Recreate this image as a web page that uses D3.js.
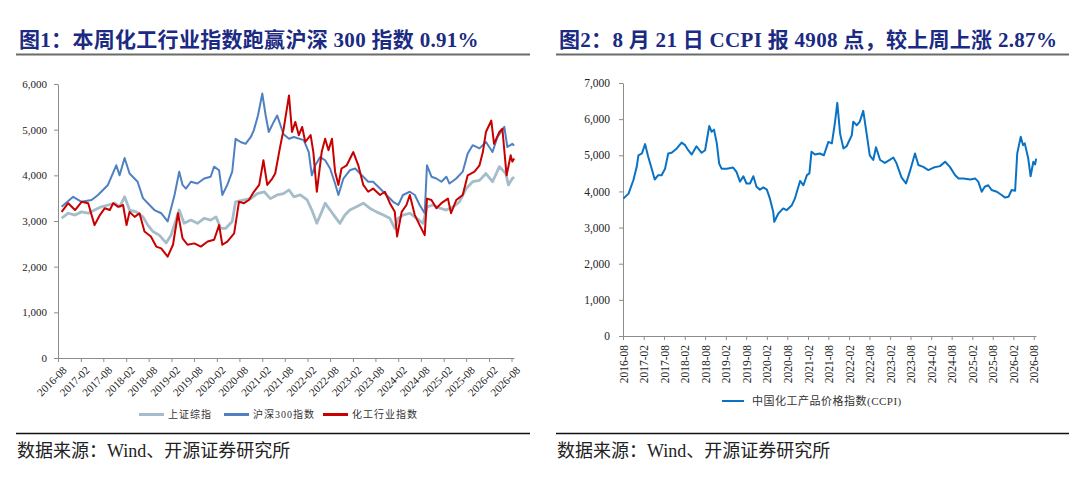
<!DOCTYPE html>
<html lang="zh">
<head>
<meta charset="utf-8">
<script src="https://d3js.org/d3.v7.min.js"></script>
<style>
  body { margin: 0; background: #fff; }
  svg text { font-family: "Liberation Serif", "Times New Roman", "Noto Sans CJK SC", serif; }
</style>
</head>
<body>
<svg id="chart" width="1080" height="483"></svg>

<script>
// x positions are months after 2016-08
var tickLabels = ["2016-08","2017-02","2017-08","2018-02","2018-08","2019-02","2019-08",
  "2020-02","2020-08","2021-02","2021-08","2022-02","2022-08","2023-02","2023-08",
  "2024-02","2024-08","2025-02","2025-08","2026-02","2026-08"];
var leftYTicks = [0, 1000, 2000, 3000, 4000, 5000, 6000];
var rightYTicks = [0, 1000, 2000, 3000, 4000, 5000, 6000, 7000];

// 上证综指
var shMonth = [0.96,2.7,4.5,6.2,8.0,9.7,11.5,13.3,15.0,16.3,17.6,18.9,20.7,22.5,23.8,25.1,26.8,28.6,29.9,32.1,
  33.4,35.2,36.9,38.7,40.4,41.8,43.1,44.4,46.1,47.0,49.2,51.0,52.7,54.5,56.2,58.0,59.7,61.1,62.4,64.1,
  65.9,67.2,68.5,69.8,70.7,72.0,73.3,74.6,75.9,77.2,79.0,80.8,82.5,84.3,86.1,87.8,89.1,90.0,91.3,93.1,
  94.9,96.6,97.6,99.2,101.0,102.7,104.5,106.2,108.0,109.7,111.5,113.2,115.0,116.8,118.5,119.2,120.2,120.7];
var shValue = [3060,3170,3130,3200,3170,3240,3310,3350,3390,3310,3530,3240,3200,3090,2910,2770,2690,2520,2690,3240,
  2950,3020,2950,3060,3020,3090,2840,2840,2990,3420,3460,3490,3600,3640,3490,3570,3600,3680,3530,3570,
  3460,3240,2950,3200,3390,3240,3090,2950,3130,3240,3310,3390,3280,3200,3130,3060,2840,3060,3130,3170,
  3060,2950,3310,3350,3280,3240,3310,3420,3710,3860,3890,4040,3860,4190,4040,3790,3930,3960];

// 沪深300指数
var hsMonth = [0.96,4.0,6.2,8.9,10.6,13.2,15.4,16.3,17.6,18.9,21.1,22.5,23.8,25.5,27.3,29.0,30.8,32.1,33.0,33.9,
  35.2,36.9,38.7,40.4,41.3,42.6,43.5,44.8,46.1,47.0,48.3,49.6,51.0,51.8,52.9,54.0,54.9,55.8,57.1,58.0,
  59.7,61.1,62.4,65.0,66.3,67.2,68.1,69.4,70.7,72.0,73.3,74.2,75.5,77.2,78.6,80.4,82.1,83.4,85.2,86.9,
  88.7,90.0,91.3,93.1,94.4,95.7,97.0,97.6,98.8,100.1,101.4,102.7,103.6,105.4,107.1,108.4,109.7,111.5,113.2,115.0,
  116.3,118.1,118.9,120.2,120.7];
var hsValue = [3310,3530,3420,3460,3570,3790,4220,4000,4380,4040,3860,3500,3390,3240,3170,2990,3570,4080,3790,3710,
  3860,3820,3930,3970,4190,4110,3570,3790,4080,4800,4730,4690,4840,4990,5310,5790,5310,4950,5170,5310,
  4900,4800,4840,4770,4510,4000,4220,4400,4330,4150,3820,3570,3930,4110,4150,4000,3860,3860,3710,3570,
  3420,3350,3570,3640,3570,3350,3170,4220,3970,3930,3860,3970,3820,3930,4080,4480,4660,4590,4730,4510,
  4840,5060,4620,4690,4650];

// 化工行业指数
var hgMonth = [0.96,2.7,4.5,6.2,8.0,9.7,11.1,12.4,13.7,14.6,15.9,17.2,18.1,18.9,20.3,21.6,22.9,24.6,26.0,27.3,
  29.0,30.4,31.8,33.0,34.3,36.1,37.8,39.6,41.3,42.6,43.5,44.8,46.6,47.9,49.2,50.5,51.8,53.2,54.3,55.4,
  56.7,57.5,58.7,59.7,61.1,61.9,62.8,63.7,64.6,65.4,66.8,67.6,68.5,69.8,70.7,71.6,72.5,73.3,74.2,75.0,
  76.4,78.1,79.5,80.8,82.1,83.4,85.2,86.5,87.8,89.1,89.7,90.9,92.2,93.1,94.4,95.7,97.0,97.6,98.8,100.1,
  101.4,103.2,104.0,105.4,107.1,108.4,110.2,111.5,112.4,113.2,114.6,115.4,116.8,117.6,118.7,119.8,120.2,120.7];
var hgValue = [3200,3390,3240,3420,3390,2910,3130,3280,3240,3390,3310,3350,2910,3200,3090,3170,2770,2660,2440,2400,
  2220,2480,3170,2620,2480,2510,2440,2550,2590,2910,2480,2550,2730,3420,3390,3460,3640,3790,4330,3790,
  3930,4040,4590,5000,5750,4950,5170,4880,5060,4730,4880,4510,3640,4510,4800,4550,4800,4080,3790,4150,
  4220,4510,4220,3790,3640,3710,3570,3640,3390,3200,2660,3200,3350,3570,3130,2910,2690,3490,3460,3280,
  3390,3490,3170,3460,3570,4000,4080,4220,4510,4950,5200,4690,4950,5020,4000,4440,4300,4370];

// 中国化工产品价格指数(CCPI)
var ccpiMonth = [0.1,1.6,3.0,4.0,4.5,5.5,6.4,7.4,8.4,9.3,10.3,11.3,12.3,13.2,14.2,15.7,17.1,18.1,19.1,20.1,
  21.5,23.0,24.0,25.2,25.9,26.6,27.4,28.1,28.8,30.3,32.2,33.2,34.2,35.2,36.1,37.1,38.1,39.0,40.0,41.0,
  42.0,42.9,43.9,44.2,45.4,46.8,47.8,49.3,50.2,51.7,52.7,53.7,54.4,55.1,56.1,57.5,58.7,60.0,61.0,61.9,
  62.6,63.4,64.4,65.3,66.8,67.3,68.3,69.2,70.2,71.2,72.1,73.1,73.9,75.1,76.5,78.0,79.0,79.9,81.4,82.7,
  83.8,85.3,86.3,87.7,89.2,90.7,92.6,94.1,95.5,97.0,98.0,99.4,101.4,102.8,103.8,104.8,105.7,106.7,107.7,109.2,
  110.6,111.6,112.6,113.5,114.5,115.2,116.2,116.9,117.4,118.4,119.1,119.9,120.4,120.7];
var ccpiValue = [3800,3940,4310,4680,5000,5050,5310,4960,4630,4330,4450,4450,4630,5050,5070,5190,5350,5280,5140,5020,
  5250,5070,5140,5810,5650,5710,5330,4770,4630,4630,4660,4540,4270,4420,4220,4220,4420,4130,4050,4110,
  4050,3800,3440,3160,3390,3530,3480,3620,3800,4290,4170,4450,4500,5100,5020,5050,5000,5370,5330,5900,
  6450,5600,5190,5250,5560,5930,5830,5930,6230,5600,5000,4870,5220,4870,4790,4880,4940,4790,4390,4220,
  4540,5050,4730,4680,4590,4660,4700,4820,4680,4450,4360,4360,4330,4360,4270,3990,4130,4170,4040,3990,
  3900,3830,3850,4040,4020,5050,5510,5280,5330,4910,4420,4820,4750,4908];

var start = new Date(2016, 7, 1);
var end = new Date(2026, 7, 21);
function monthToDate(m) {
  var d = d3.timeMonth.offset(start, Math.floor(m));
  return d3.timeHour.offset(d, Math.round((m - Math.floor(m)) * 30.4 * 24));
}
var parseMonth = d3.timeParse("%Y-%m");
var tickDates = tickLabels.map(parseMonth);

var svg = d3.select("#chart");
svg.append("rect").attr("width", 1080).attr("height", 483).attr("fill", "#fff");

var titleColor = "#1b2a82";

function frame(x0, x1, title, titleX) {
  svg.append("text")
    .attr("x", titleX).attr("y", 47)
    .attr("fill", titleColor)
    .style("font-size", "21px")
    .style("font-weight", "bold")
    .style("letter-spacing", "0.3px")
    .text(title);
  svg.append("line")
    .attr("x1", x0).attr("x2", x1).attr("y1", 54.5).attr("y2", 54.5)
    .attr("stroke", "#6b6b6b").attr("stroke-width", 2.2);
  svg.append("line")
    .attr("x1", x0).attr("x2", x1).attr("y1", 433.5).attr("y2", 433.5)
    .attr("stroke", "#111").attr("stroke-width", 1.4);
  svg.append("text")
    .attr("x", x0 + 1).attr("y", 457)
    .attr("fill", "#222")
    .style("font-size", "18px")
    .text("数据来源：Wind、开源证券研究所");
}

frame(16, 530, "图1：本周化工行业指数跑赢沪深 300 指数 0.91%", 19);
frame(556, 1069, "图2：8 月 21 日 CCPI 报 4908 点，较上周上涨 2.87%", 559);

function styleAxis(g) {
  g.select(".domain").attr("stroke", "#8c8c8c");
  g.selectAll(".tick line").attr("stroke", "#8c8c8c");
  g.selectAll(".tick text").attr("fill", "#222");
}

// ---------- left chart ----------
var xL = d3.scaleTime().domain([start, end]).range([58, 514]);
var yL = d3.scaleLinear().domain([0, 6000]).range([358, 84]);

svg.append("g")
    .attr("transform", "translate(58,0)")
    .call(d3.axisLeft(yL).tickValues(leftYTicks).tickFormat(d3.format(",")).tickSize(4).tickPadding(7).tickSizeOuter(0))
    .call(styleAxis)
    .selectAll("text").style("font-size", "11px").style("font-family", "Liberation Serif");

var gxL = svg.append("g")
    .attr("transform", "translate(0,358)")
    .call(d3.axisBottom(xL).tickValues(tickDates).tickFormat(d3.timeFormat("%Y-%m")).tickSize(4).tickSizeOuter(0))
    .call(styleAxis);
gxL.selectAll("text")
    .style("font-size", "11px")
    .style("font-family", "Liberation Serif")
    .attr("text-anchor", "end")
    .attr("dy", "0")
    .attr("transform", "translate(4,8) rotate(-45)");

var leftSeries = [
  {name: "上证综指", month: shMonth, value: shValue, color: "#a5bccb", width: 2.8},
  {name: "沪深300指数", month: hsMonth, value: hsValue, color: "#4f81c2", width: 2.0},
  {name: "化工行业指数", month: hgMonth, value: hgValue, color: "#c80000", width: 2.0}
];

var lineL = d3.line()
    .x(function(d) { return xL(monthToDate(d[0])); })
    .y(function(d) { return yL(d[1]); });

leftSeries.forEach(function(s) {
  svg.append("path")
    .datum(d3.zip(s.month, s.value))
    .attr("fill", "none")
    .attr("stroke", s.color)
    .attr("stroke-width", s.width)
    .attr("stroke-linejoin", "round")
    .attr("d", lineL);
});

var legX = [139, 224, 323];
leftSeries.forEach(function(s, i) {
  svg.append("line")
    .attr("x1", legX[i]).attr("x2", legX[i] + 25).attr("y1", 414.5).attr("y2", 414.5)
    .attr("stroke", s.color).attr("stroke-width", 3);
  svg.append("text")
    .attr("x", legX[i] + 29).attr("y", 418)
    .attr("fill", "#333")
    .style("font-size", "10px")
    .style("letter-spacing", "1px")
    .text(s.name);
});

// ---------- right chart ----------
var xR = d3.scaleTime().domain([start, end]).range([623, 1036]);
var yR = d3.scaleLinear().domain([0, 7000]).range([336, 83]);

svg.append("g")
    .attr("transform", "translate(623,0)")
    .call(d3.axisLeft(yR).tickValues(rightYTicks).tickFormat(d3.format(",")).tickSize(4).tickPadding(9).tickSizeOuter(0))
    .call(styleAxis)
    .selectAll("text").style("font-size", "11.5px").style("font-family", "Liberation Serif");

var gxR = svg.append("g")
    .attr("transform", "translate(0,336)")
    .call(d3.axisBottom(xR).tickValues(tickDates).tickFormat(d3.timeFormat("%Y-%m")).tickSize(4).tickSizeOuter(0))
    .call(styleAxis);
gxR.selectAll("text")
    .style("font-size", "11.5px")
    .style("font-family", "Liberation Serif")
    .attr("text-anchor", "end")
    .attr("dy", "0")
    .attr("transform", "translate(4,9) rotate(-90)")
    .attr("y", 0);

svg.append("path")
  .datum(d3.zip(ccpiMonth, ccpiValue))
  .attr("fill", "none")
  .attr("stroke", "#0a72c4")
  .attr("stroke-width", 2)
  .attr("stroke-linejoin", "round")
  .attr("d", d3.line()
    .x(function(d) { return xR(monthToDate(d[0])); })
    .y(function(d) { return yR(d[1]); }));

svg.append("line")
  .attr("x1", 722).attr("x2", 744).attr("y1", 401).attr("y2", 401)
  .attr("stroke", "#0a72c4").attr("stroke-width", 2);
svg.append("text")
  .attr("x", 752).attr("y", 405)
  .attr("fill", "#333")
  .style("font-size", "11px")
  .style("letter-spacing", "0.5px")
  .text("中国化工产品价格指数(CCPI)");
</script>
</body>
</html>
